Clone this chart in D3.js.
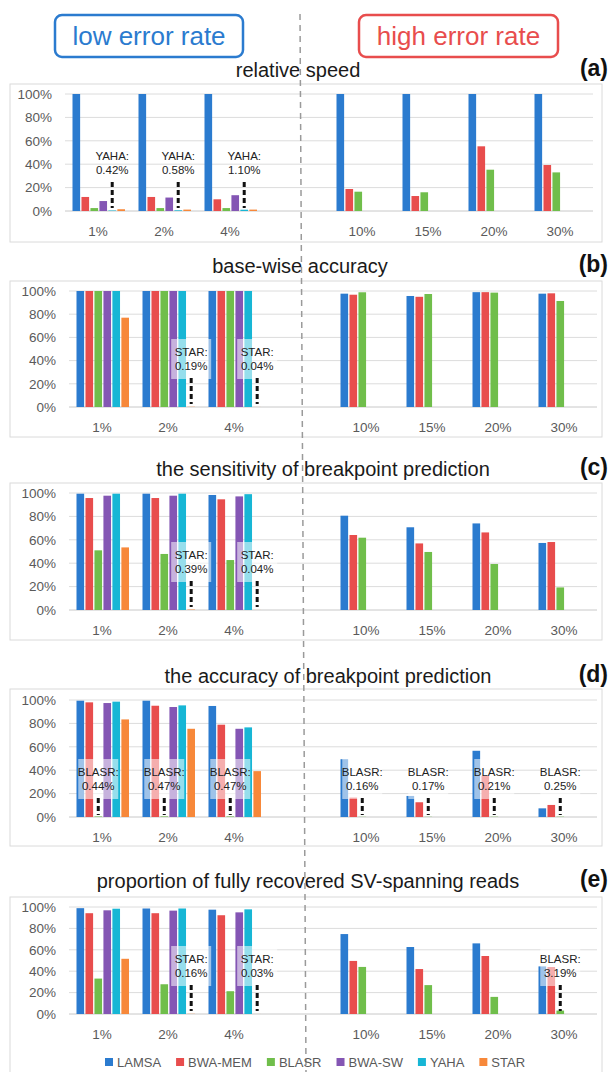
<!DOCTYPE html>
<html>
<head>
<meta charset="utf-8">
<script src="https://cdn.jsdelivr.net/npm/d3@7"></script>
<style>
  body { margin: 0; background: #fff; }
  svg { display: block; font-family: "Liberation Sans", Arial, sans-serif; }
</style>
</head>
<body>
<div id="chart"></div>
<script>
const tools = ["LAMSA", "BWA-MEM", "BLASR", "BWA-SW", "YAHA", "STAR"];
const toolColors = ["#2b7bcf", "#e84d4d", "#70be4b", "#8456b4", "#17b6d5", "#f7883a"];
const rates = ["1%", "2%", "4%", "gap", "10%", "15%", "20%", "30%"];   // "gap" = empty slot between the two halves
const dataRates = ["1%", "2%", "4%", "10%", "15%", "20%", "30%"];
const yTicks = [0, 20, 40, 60, 80, 100];

// rows follow dataRates, columns follow tools (high error rate rows only have 3 tools)
const speed = [
    [100, 12, 2.5, 8.5, 0.42, 1.5],
    [100, 12, 2.5, 11.5, 0.58, 1.2],
    [100, 10, 2.5, 13.5, 1.10, 1.2],
    [100, 18.8, 16.5],
    [100, 12.8, 16],
    [100, 55.3, 35.3],
    [100, 39.3, 33]
];
const accuracy = [
    [100, 100, 100, 100, 100, 77],
    [100, 100, 100, 100, 100, 0.19],
    [100, 100, 100, 100, 100, 0.04],
    [97.7, 96.8, 98.9],
    [95.7, 95, 97.4],
    [99, 99, 98.6],
    [97.7, 98, 91.4]
];
const sensitivity = [
    [99.4, 95.7, 51, 97.7, 99.4, 53.5],
    [99.4, 95.7, 47.9, 97.7, 99.4, 0.39],
    [98.3, 94.6, 42.7, 97.1, 99, 0.04],
    [80.6, 64.1, 61.8],
    [70.7, 56.9, 49.6],
    [74, 66.3, 39.3],
    [57.3, 58.1, 19.3]
];
const bpAccuracy = [
    [99.4, 98, 0.44, 97.4, 98.6, 83.4],
    [99.4, 95.1, 0.47, 94, 95.4, 75.4],
    [94.9, 78.9, 0.47, 75.4, 76.6, 39.2],
    [49.4, 16.6, 0.16],
    [18, 12.6, 0.17],
    [56.6, 35.1, 0.21],
    [7.4, 10.3, 0.25]
];
const recovered = [
    [98.9, 94.2, 33.1, 96.9, 98.4, 51.6],
    [98.6, 94.2, 27.8, 96.6, 98.6, 0.16],
    [97.5, 92.3, 21.3, 95, 97.8, 0.03],
    [74.7, 49.6, 44],
    [62.6, 42, 27],
    [66, 54.2, 16],
    [44.5, 43.9, 3.19]
];

// bars too small to see get a text note + dashed marker
const speedNotes = [["1%", "YAHA"], ["2%", "YAHA"], ["4%", "YAHA"]];
const accuracyNotes = [["2%", "STAR"], ["4%", "STAR"]];
const sensitivityNotes = [["2%", "STAR"], ["4%", "STAR"]];
const bpNotes = [["1%", "BLASR"], ["2%", "BLASR"], ["4%", "BLASR"], ["10%", "BLASR"], ["15%", "BLASR"], ["20%", "BLASR"], ["30%", "BLASR"]];
const recoveredNotes = [["2%", "STAR"], ["4%", "STAR"], ["30%", "BLASR"]];

const titles = [
    "relative speed",
    "base-wise accuracy",
    "the sensitivity of breakpoint prediction",
    "the accuracy of breakpoint prediction",
    "proportion of fully recovered SV-spanning reads"
];
const panelLabels = ["(a)", "(b)", "(c)", "(d)", "(e)"];

function init() {
    const svg = d3.select("#chart")
        .append("svg")
        .attr("width", 611)
        .attr("height", 1072);

    addHeader(svg);

    const layout = [
        {values: speed, notes: speedNotes, titleX: 298, titleY: 77, boxTop: 84, boxBottom: 242, x0: 65, top: 94, bottom: 211, highlight: false, noteDrop: 0},
        {values: accuracy, notes: accuracyNotes, titleX: 300, titleY: 273, boxTop: 281, boxBottom: 437, x0: 69, top: 291, bottom: 407, highlight: true, noteDrop: 0},
        {values: sensitivity, notes: sensitivityNotes, titleX: 323, titleY: 476, boxTop: 483, boxBottom: 640, x0: 69, top: 493, bottom: 610, highlight: true, noteDrop: 0},
        {values: bpAccuracy, notes: bpNotes, titleX: 328, titleY: 683, boxTop: 689, boxBottom: 846, x0: 69, top: 700, bottom: 817, highlight: true, noteDrop: 10},
        {values: recovered, notes: recoveredNotes, titleX: 308, titleY: 888, boxTop: 897, boxBottom: 1090, x0: 69, top: 907, bottom: 1014, highlight: true, noteDrop: 0}
    ];
    layout.forEach((p, i) => drawPanel(svg, p, titles[i], panelLabels[i]));

    // dashed divider between low and high error rate
    svg.append("line")
        .attr("x1", 300).attr("y1", 14)
        .attr("x2", 306).attr("y2", 1072)
        .attr("stroke", "#9a9a9a")
        .attr("stroke-width", 1.5)
        .attr("stroke-dasharray", "6,5");

    addLegend(svg);
}

function addHeader(svg) {
    const boxes = [
        {x: 55, w: 188, text: "low error rate", color: "#2b7bcf"},
        {x: 359, w: 199, text: "high error rate", color: "#e84d4d"}
    ];
    boxes.forEach(b => {
        svg.append("rect")
            .attr("x", b.x).attr("y", 15)
            .attr("width", b.w).attr("height", 42)
            .attr("rx", 7)
            .attr("fill", "#fff")
            .attr("stroke", b.color)
            .attr("stroke-width", 2.5);
        svg.append("text")
            .attr("x", b.x + b.w / 2)
            .attr("y", 45)
            .attr("text-anchor", "middle")
            .style("font-size", "26px")
            .style("fill", b.color)
            .text(b.text);
    });
}

function drawPanel(svg, p, title, label) {
    const g = svg.append("g");
    const plotW = 528;

    g.append("rect")
        .attr("x", 10).attr("y", p.boxTop)
        .attr("width", 592).attr("height", p.boxBottom - p.boxTop)
        .attr("fill", "none")
        .attr("stroke", "#dadada");

    g.append("text")
        .attr("x", p.titleX).attr("y", p.titleY)
        .attr("text-anchor", "middle")
        .style("font-size", "20px")
        .style("fill", "#1a1a1a")
        .text(title);

    g.append("text")
        .attr("x", 608).attr("y", p.titleY - 1)
        .attr("text-anchor", "end")
        .style("font-size", "23px")
        .style("font-weight", "bold")
        .style("fill", "#111")
        .text(label);

    const xScale = d3.scaleBand().domain(rates).range([p.x0, p.x0 + plotW]);
    const inner = d3.scaleBand().domain(tools).range([7.5, 60]).paddingInner(0.15);
    const yScale = d3.scaleLinear().domain([0, 100]).range([p.bottom, p.top]);

    // gridlines
    g.append("g").selectAll("line")
        .data(yTicks)
        .join("line")
        .attr("x1", p.x0).attr("x2", p.x0 + plotW)
        .attr("y1", d => yScale(d)).attr("y2", d => yScale(d))
        .attr("stroke", d => d === 0 ? "#c8c8c8" : "#dcdcdc");

    const yAxis = d3.axisLeft(yScale).tickValues(yTicks).tickFormat(d => d + "%").tickSize(0).tickPadding(13);
    const ya = g.append("g")
        .attr("transform", `translate(${p.x0},0)`)
        .call(yAxis);
    ya.select(".domain").remove();
    ya.selectAll("text")
        .style("font-size", "13.5px")
        .style("font-family", "'Liberation Sans', Arial, sans-serif")
        .style("fill", "#5a5a5a");

    const xAxis = d3.axisBottom(xScale).tickSize(0).tickFormat(d => d === "gap" ? "" : d);
    const xa = g.append("g")
        .attr("transform", `translate(0,${p.bottom})`)
        .call(xAxis);
    xa.select(".domain").remove();
    xa.selectAll("text")
        .attr("y", 20)
        .attr("dy", "0.35em")
        .style("font-size", "13.5px")
        .style("font-family", "'Liberation Sans', Arial, sans-serif")
        .style("fill", "#5a5a5a");

    // flatten the rows into bars
    let bars = [];
    p.values.forEach((row, i) => {
        row.forEach((v, j) => bars.push({rate: dataRates[i], tool: tools[j], value: v, color: toolColors[j]}));
    });

    g.append("g").selectAll("rect")
        .data(bars)
        .join("rect")
        .attr("x", d => xScale(d.rate) + inner(d.tool))
        .attr("width", inner.bandwidth())
        .attr("y", d => yScale(d.value))
        .attr("height", d => yScale(0) - yScale(d.value))
        .attr("fill", d => d.color);

    // notes for the near-zero bars
    p.notes.forEach(n => {
        const bar = bars.find(b => b.rate === n[0] && b.tool === n[1]);
        const cx = xScale(bar.rate) + inner(bar.tool) + inner.bandwidth() / 2;
        const base = p.bottom + p.noteDrop;
        if (p.highlight) {
            g.append("rect")
                .attr("x", cx - 20).attr("y", base - 68)
                .attr("width", 40).attr("height", 40)
                .attr("fill", "#fff")
                .attr("opacity", 0.55);
        }
        const lines = [bar.tool + ":", bar.value.toFixed(2) + "%"];
        g.selectAll(null)
            .data(lines)
            .join("text")
            .attr("x", cx)
            .attr("y", (d, i) => base - 55 + i * 14)
            .attr("dy", "0.35em")
            .attr("text-anchor", "middle")
            .style("font-size", "11.5px")
            .style("fill", "#222")
            .text(d => d);
        g.append("line")
            .attr("x1", cx).attr("x2", cx)
            .attr("y1", base - 29)
            .attr("y2", Math.min(base - 3, p.bottom - 2))
            .attr("stroke", "#111")
            .attr("stroke-width", 3)
            .attr("stroke-dasharray", "5,3");
    });
}

function addLegend(svg) {
    let x = 105;
    const y = 1062;
    tools.forEach((t, i) => {
        svg.append("rect")
            .attr("x", x).attr("y", y - 4)
            .attr("width", 8).attr("height", 8)
            .attr("fill", toolColors[i]);
        const txt = svg.append("text")
            .attr("x", x + 12).attr("y", y)
            .attr("dy", "0.35em")
            .style("font-size", "13px")
            .style("fill", "#595959")
            .text(t);
        x += 12 + txt.node().getComputedTextLength() + 15;
    });
}

window.addEventListener("load", init);
</script>
</body>
</html>
